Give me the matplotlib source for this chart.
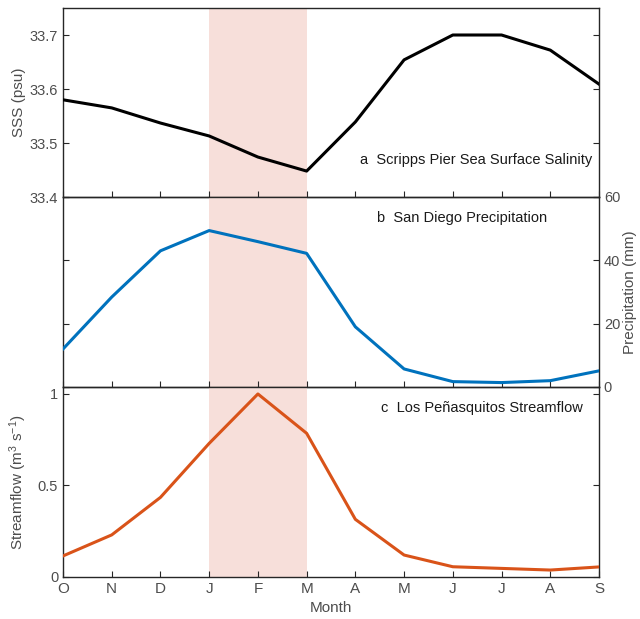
import matplotlib
matplotlib.use('Agg')
import matplotlib.pyplot as plt
import numpy as np

plt.rcParams['font.family'] = ['Liberation Sans', 'DejaVu Sans']
plt.rcParams['mathtext.fontset'] = 'custom'
plt.rcParams['mathtext.rm'] = 'Liberation Sans'
plt.rcParams['mathtext.default'] = 'regular'

months = ['O', 'N', 'D', 'J', 'F', 'M', 'A', 'M', 'J', 'J', 'A', 'S']
sss = [33.580, 33.565, 33.537, 33.513, 33.474, 33.448,
       33.539, 33.654, 33.700, 33.700, 33.672, 33.609]
precip = [12.0, 28.4, 43.0, 49.4, 45.9, 42.2,
          19.0, 5.7, 1.7, 1.4, 2.0, 5.1]
streamflow = [0.115, 0.23, 0.435, 0.73, 1.0, 0.785,
              0.315, 0.12, 0.056, 0.047, 0.038, 0.055]
shade_start, shade_end = 3, 5  # J .. M

x = np.arange(len(months))
spine_c = '#262626'
tick_c = '#4d4d4d'
shade_c = '#f7dfda'

fig = plt.figure(figsize=(6.4, 6.19), dpi=100)
left, width = 63 / 640, 536 / 640
H = 619
ax_a = fig.add_axes([left, 1 - 197 / H, width, 189 / H])
ax_b = fig.add_axes([left, 1 - 387 / H, width, 190 / H])
ax_c = fig.add_axes([left, 1 - 577 / H, width, 190 / H])

for ax in (ax_a, ax_b, ax_c):
    ax.axvspan(shade_start, shade_end, color=shade_c, lw=0, zorder=0)
    ax.set_xlim(0, 11)
    ax.set_xticks(x)
    ax.tick_params(direction='in', length=4, width=0.8, colors=spine_c,
                   labelcolor=tick_c, labelsize=10.5, top=False, right=True, left=True)
    for s in ax.spines.values():
        s.set_color(spine_c)
        s.set_linewidth(1.0)
    ax.set_facecolor('none')

# a - salinity
ax_a.plot(x, sss, color='black', lw=2.2, zorder=3)
ax_a.set_ylim(33.4, 33.75)
ax_a.set_yticks([33.4, 33.5, 33.6, 33.7])
ax_a.set_xticklabels([])
ax_a.set_ylabel('SSS (psu)', color=tick_c, fontsize=11, labelpad=3)
ax_a.text(0.988, 0.16, 'a  Scripps Pier Sea Surface Salinity',
          transform=ax_a.transAxes, fontsize=10.5, ha='right', va='bottom',
          color='#1a1a1a')

# b - precipitation
ax_b.plot(x, precip, color='#0072bd', lw=2.2, zorder=3)
ax_b.set_ylim(0, 60)
ax_b.set_yticks([0, 20, 40, 60])
ax_b.set_xticklabels([])
ax_b.tick_params(axis='y', labelleft=False, labelright=True)
ax_b.yaxis.set_label_position('right')
ax_b.set_ylabel('Precipitation (mm)', color=tick_c, fontsize=11, labelpad=2)
ax_b.text(0.585, 0.855, 'b  San Diego Precipitation', transform=ax_b.transAxes,
          fontsize=10.5, ha='left', va='bottom', color='#1a1a1a')

# c - streamflow
ax_c.plot(x, streamflow, color='#d95319', lw=2.2, zorder=3)
ax_c.set_ylim(0, 1.038)
ax_c.set_yticks([0, 0.5, 1])
ax_c.set_yticklabels(['0', '0.5', '1'])
ax_c.set_xticklabels(months, fontsize=11)
ax_c.set_ylabel(r'Streamflow (m$^3$ s$^{-1}$)', color=tick_c, fontsize=11, labelpad=6)
ax_c.set_xlabel('Month', color=tick_c, fontsize=11, labelpad=4)
ax_c.text(0.593, 0.855, 'c  Los Peñasquitos Streamflow', transform=ax_c.transAxes,
          fontsize=10.5, ha='left', va='bottom', color='#1a1a1a')

fig.savefig('out.png', dpi=100)
